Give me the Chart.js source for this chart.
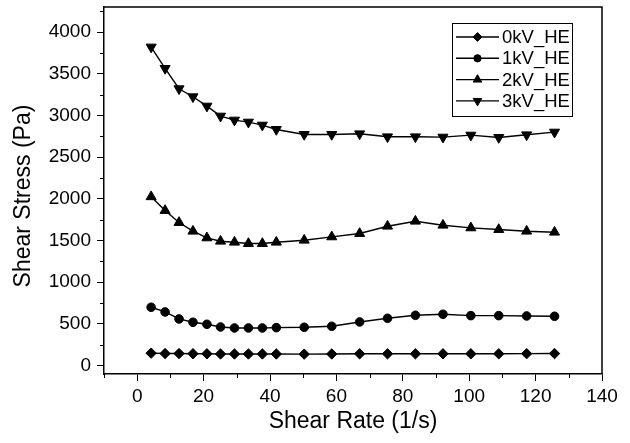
<!DOCTYPE html>
<html><head><meta charset="utf-8">
<script src="https://cdn.jsdelivr.net/npm/chart.js@4.4.0/dist/chart.umd.min.js"></script>
<style>html,body{margin:0;padding:0;background:#fff}#wrap{width:630px;height:443px}</style>
</head><body><div id="wrap"><canvas id="c" width="630" height="443"></canvas></div>
<script>
const shearRate = [4.2, 8.4, 12.6, 16.8, 21.0, 25.1, 29.3, 33.5, 37.7, 41.9, 50.3, 58.6, 67.0, 75.4, 83.8, 92.1, 100.5, 108.9, 117.3, 125.7];
const stress0kV = [150, 145, 145, 143, 142, 140, 140, 140, 140, 140, 138, 140, 142, 142, 142, 142, 142, 142, 144, 145];
const stress1kV = [700, 644, 560, 520, 496, 464, 452, 452, 452, 456, 460, 472, 524, 568, 604, 616, 600, 600, 596, 592];
const stress2kV = [2025, 1860, 1716, 1612, 1532, 1492, 1480, 1464, 1464, 1480, 1504, 1544, 1584, 1672, 1732, 1684, 1652, 1632, 1612, 1600];
const stress3kV = [3820, 3564, 3320, 3224, 3112, 2992, 2944, 2920, 2884, 2832, 2772, 2772, 2780, 2744, 2744, 2740, 2764, 2736, 2768, 2800];
const seriesNames = ['0kV_HE', '1kV_HE', '2kV_HE', '3kV_HE'];
const xTicks = [0, 20, 40, 60, 80, 100, 120, 140];
const xMinorTicks = [-10, 10, 30, 50, 70, 90, 110, 130];
const yTicks = [0, 500, 1000, 1500, 2000, 2500, 3000, 3500, 4000];
const yMinorTicks = [250, 750, 1250, 1750, 2250, 2750, 3250, 3750, 4250];
const xTitle = 'Shear Rate (1/s)';
const yTitle = 'Shear Stress (Pa)';

const FONT = "'Liberation Sans', Arial, sans-serif";
const styles = [
  {pointStyle: 'rectRot', radius: 5.2, rotation: 0},
  {pointStyle: 'circle', radius: 4.3, rotation: 0},
  {pointStyle: 'triangle', radius: 5.8, rotation: 0},
  {pointStyle: 'triangle', radius: 5.8, rotation: 180}
];
const allSeries = [stress0kV, stress1kV, stress2kV, stress3kV];

const datasets = allSeries.map((vals, i) => ({
  label: seriesNames[i],
  data: shearRate.map((x, j) => ({x: x, y: vals[j]})),
  borderColor: '#000',
  backgroundColor: '#000',
  borderWidth: 1.4,
  pointStyle: styles[i].pointStyle,
  pointRadius: styles[i].radius,
  pointRotation: styles[i].rotation,
  pointBorderWidth: 1,
  pointBackgroundColor: '#000',
  pointBorderColor: '#000',
  tension: 0,
  fill: false
}));

function drawMarker(ctx, st, x, y) {
  if (Chart.helpers && Chart.helpers.drawPoint) {
    Chart.helpers.drawPoint(ctx, {pointStyle: st.pointStyle, radius: st.radius, rotation: st.rotation, borderWidth: 1}, x, y);
  }
}

const framePlugin = {
  id: 'frame',
  afterDraw(chart) {
    const ctx = chart.ctx;
    const a = chart.chartArea;
    const xs = chart.scales.x, ys = chart.scales.y;
    ctx.save();
    ctx.strokeStyle = '#000';
    ctx.lineWidth = 1.5;
    ctx.beginPath();
    ctx.moveTo(a.left, a.top); ctx.lineTo(a.right, a.top); ctx.lineTo(a.right, a.bottom);
    ctx.stroke();
    ctx.lineWidth = 1;
    ctx.beginPath();
    xMinorTicks.forEach(v => {
      const px = Math.round(xs.getPixelForValue(v)) + 0.5;
      ctx.moveTo(px, a.bottom); ctx.lineTo(px, a.bottom + 4);
    });
    yMinorTicks.forEach(v => {
      const py = Math.round(ys.getPixelForValue(v)) + 0.5;
      ctx.moveTo(a.left, py); ctx.lineTo(a.left - 4, py);
    });
    ctx.stroke();
    // y-axis title
    ctx.save();
    ctx.translate(24, 196);
    ctx.rotate(-Math.PI / 2);
    ctx.font = '23px ' + FONT;
    ctx.fillStyle = '#000';
    ctx.textAlign = 'center';
    ctx.textBaseline = 'middle';
    ctx.fillText(yTitle, 0, 0);
    ctx.restore();
    // legend
    const bx = 452.5, by = 23.5, bw = 120, bh = 93;
    ctx.lineWidth = 1;
    ctx.strokeRect(bx, by, bw, bh);
    ctx.font = '18.5px ' + FONT;
    ctx.textBaseline = 'middle';
    ctx.textAlign = 'left';
    seriesNames.forEach((name, i) => {
      const cy = 37 + i * 21.3;
      ctx.lineWidth = 1.4;
      ctx.strokeStyle = '#000';
      ctx.beginPath();
      ctx.moveTo(456, cy); ctx.lineTo(499, cy);
      ctx.stroke();
      ctx.fillStyle = '#000';
      ctx.lineWidth = 1;
      const st = Object.assign({}, styles[i], {radius: styles[i].radius * 0.85});
      drawMarker(ctx, st, 477.5, cy);
      ctx.fillStyle = '#000';
      ctx.fillText(name, 502, cy + 1);
    });
    ctx.restore();
  }
};

new Chart(document.getElementById('c'), {
  type: 'line',
  data: {datasets: datasets},
  options: {
    responsive: false,
    animation: false,
    devicePixelRatio: 1,
    layout: {padding: {top: 7, right: 28, left: 0, bottom: 0}},
    plugins: {legend: {display: false}, tooltip: {enabled: false}},
    scales: {
      x: {
        type: 'linear',
        min: -10, max: 140,
        afterBuildTicks: s => { s.ticks = xTicks.map(v => ({value: v})); },
        afterFit: s => { s.height = 69; s.paddingLeft = 0; s.paddingRight = 0; },
        grid: {display: true, drawOnChartArea: false, drawTicks: true, tickLength: 7, color: '#000', tickWidth: 1},
        border: {display: true, color: '#000', width: 1.5},
        ticks: {color: '#000', font: {family: FONT, size: 19}, padding: 4, maxRotation: 0, autoSkip: false,
                callback: v => String(v)},
        title: {display: true, text: xTitle, color: '#000', font: {family: FONT, size: 23}, padding: {top: 0, bottom: 8}}
      },
      y: {
        type: 'linear',
        min: -100, max: 4300,
        afterBuildTicks: s => { s.ticks = yTicks.map(v => ({value: v})); },
        afterFit: s => { s.width = 104; s.paddingTop = 0; s.paddingBottom = 0; },
        grid: {display: true, drawOnChartArea: false, drawTicks: true, tickLength: 7, color: '#000', tickWidth: 1},
        border: {display: true, color: '#000', width: 1.5},
        ticks: {color: '#000', font: {family: FONT, size: 19}, padding: 6, autoSkip: false,
                callback: v => String(v)},
        title: {display: false}
      }
    }
  },
  plugins: [framePlugin]
});
</script>
</body></html>
